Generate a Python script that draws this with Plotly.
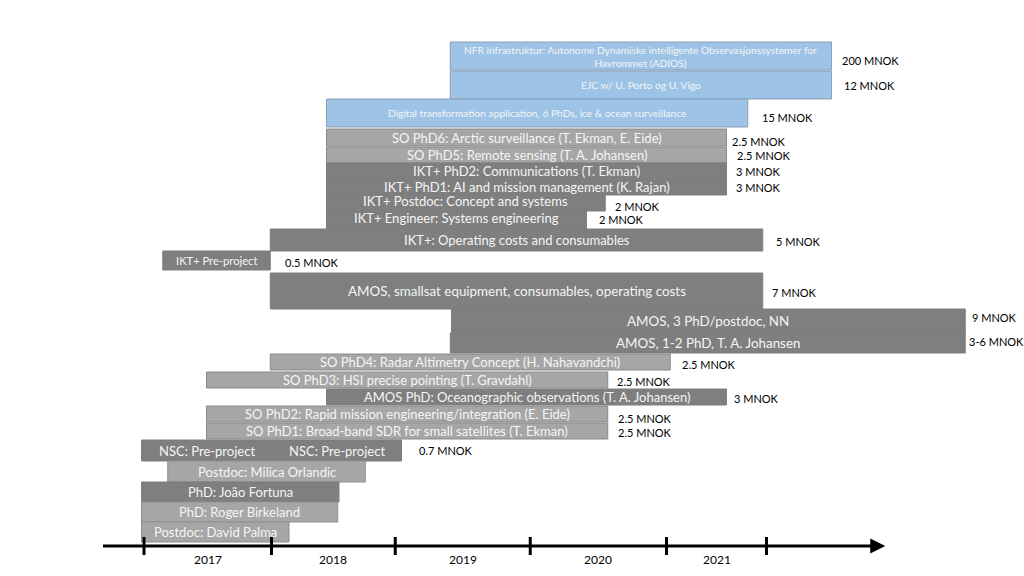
import plotly.graph_objects as go

# ---------------- data ----------------
tasks = [
    "NFR infrastruktur: Autonome Dynamiske intelligente Observasjonssystemer for<br>Havrommet (ADIOS)",
    "EJC w/ U. Porto og U. Vigo",
    "Digital transformation application, 6 PhDs, ice & ocean surveillance",
    "SO PhD6: Arctic surveillance (T. Ekman, E. Eide)",
    "SO PhD5: Remote sensing (T. A. Johansen)",
    "IKT+ PhD2: Communications (T. Ekman)",
    "IKT+ PhD1: AI and mission management (K. Rajan)",
    "IKT+ Postdoc: Concept and systems",
    "IKT+ Engineer: Systems engineering",
    "IKT+: Operating costs and consumables",
    "IKT+ Pre-project",
    "AMOS, smallsat equipment, consumables, operating costs",
    "AMOS, 3 PhD/postdoc, NN",
    "AMOS, 1-2 PhD, T. A. Johansen",
    "SO PhD4: Radar Altimetry Concept (H. Nahavandchi)",
    "SO PhD3: HSI precise pointing (T. Gravdahl)",
    "AMOS PhD: Oceanographic observations (T. A. Johansen)",
    "SO PhD2: Rapid mission engineering/integration (E. Eide)",
    "SO PhD1: Broad-band SDR for small satellites (T. Ekman)",
    "NSC: Pre-project",
    "NSC: Pre-project",
    "Postdoc: Milica Orlandic",
    "PhD: João Fortuna",
    "PhD: Roger Birkeland",
    "Postdoc: David Palma",
]
starts = [2019.45, 2019.45, 2018.46, 2018.46, 2018.46, 2018.46, 2018.46, 2018.46, 2018.46,
          2018.01, 2017.15, 2018.01, 2019.46, 2019.45, 2018.01, 2017.50, 2018.46, 2017.50,
          2017.50, 2016.98, 2018.02, 2017.19, 2016.98, 2016.98, 2016.98]
ends = [2022.50, 2022.50, 2021.83, 2021.66, 2021.66, 2021.66, 2021.66, 2020.69, 2020.54,
        2021.95, 2018.01, 2021.95, 2023.57, 2023.57, 2021.21, 2020.71, 2021.66, 2020.71,
        2020.71, 2018.02, 2019.06, 2018.77, 2018.56, 2018.55, 2018.16]
costs = ["200 MNOK", "12 MNOK", "15 MNOK", "2.5 MNOK", "2.5 MNOK", "3 MNOK", "3 MNOK",
         "2 MNOK", "2 MNOK", "5 MNOK", "0.5 MNOK", "7 MNOK", "9 MNOK", "3-6 MNOK",
         "2.5 MNOK", "2.5 MNOK", "3 MNOK", "2.5 MNOK", "2.5 MNOK", "", "0.7 MNOK",
         "", "", "", ""]
groups = ["application", "application", "application", "SO", "SO", "IKT+", "IKT+", "IKT+",
          "IKT+", "IKT+", "IKT+", "AMOS", "AMOS", "AMOS", "SO", "SO", "AMOS", "SO", "SO",
          "NSC", "NSC", "NSC-light", "NSC", "NSC-light", "NSC-light"]
year_labels = ["2017", "2018", "2019", "2020", "2021"]
year_dividers = [2017.00, 2018.02, 2019.01, 2020.09, 2021.18, 2021.98]
timeline_span = [2016.66, 2022.93]

# ---------------- layout constants ----------------
W, H = 1024, 576
PX_PER_YEAR = 125.0
X0_YEAR, X0_PX = 2017.0, 144         # page pixel of the 2017 divider
x_range = [X0_YEAR - X0_PX / PX_PER_YEAR, X0_YEAR + (W - X0_PX) / PX_PER_YEAR]
y_range = [H, 0]

row_y = [56, 85, 113, 137.5, 155, 171, 187, 202.5, 220, 240, 260.5, 291, 321, 343,
         362, 380, 397, 414, 431, 450.5, 450.5, 471.5, 492, 512, 532]
row_h = [28, 28, 28, 17, 16, 16, 16, 17, 18, 22, 19, 36, 24, 20,
         16, 16, 16, 16, 16, 21, 21, 21, 20, 20, 20]
cost_gap = [8, 10, 12, 3, 8, 7, 7, 8, 10, 11, 13, 7, 5, 2, 10, 7, 5, 8, 8, 0, 15, 0, 0, 0, 0]
cost_dy = [4, 0, 4, 3.5, 0, 0, 0, 3.5, -1, 1, 1.5, 1, -4, -2, 2, 1, 1, 4, 1, 0, -0.5, 0, 0, 0, 0]
text_dy = [0, 0, 0, 0, 0, 0, 0, -1.5, -2, 0, 0, 0, 0, 0, 0, 0, 0, 0, 0, 0, 0, 0, 0, 0, 0]

fill = {"application": "#9DC3E6", "SO": "#A6A6A6", "IKT+": "#7F7F7F", "AMOS": "#7F7F7F",
        "NSC": "#7F7F7F", "NSC-light": "#A6A6A6"}
edge = {"application": "#8C9FB4", "SO": "#8A8A8A", "IKT+": "#7F7F7F", "AMOS": "#7F7F7F",
        "NSC": "#7F7F7F", "NSC-light": "#8F8F8F"}
text_size = {"application": 10.2, "SO": 13, "IKT+": 13, "AMOS": 13, "NSC": 13,
             "NSC-light": 13}
FONT = "Lato"

fig = go.Figure()
fig.add_trace(go.Bar(
    orientation="h",
    y=row_y,
    base=starts,
    x=[e - s for s, e in zip(starts, ends)],
    width=row_h,
    marker=dict(color=[fill[g] for g in groups],
                line=dict(color=[edge[g] for g in groups], width=1)),
    hoverinfo="skip",
    showlegend=False,
))

annotations = []
for i, t in enumerate(tasks):
    size = text_size[groups[i]]
    if t == "IKT+ Pre-project":
        size = 11.2
    if t.startswith("AMOS,"):
        size = 13.4
    annotations.append(dict(
        x=(starts[i] + ends[i]) / 2, y=row_y[i], xref="x", yref="y",
        text=t, showarrow=False, xanchor="center", yanchor="middle",
        yshift=-text_dy[i],
        font=dict(family=FONT, size=size, color="#F5F5F5"),
    ))
    if costs[i]:
        annotations.append(dict(
            x=ends[i], y=row_y[i], xref="x", yref="y", text=costs[i],
            showarrow=False, xanchor="left", yanchor="middle",
            xshift=cost_gap[i], yshift=-cost_dy[i],
            font=dict(family=FONT, size=11, color="#000000"),
        ))

# timeline arrow
AXIS_Y = 546
annotations.append(dict(
    x=timeline_span[1], y=AXIS_Y, ax=timeline_span[0], ay=AXIS_Y,
    xref="x", yref="y", axref="x", ayref="y", text="",
    showarrow=True, arrowhead=2, arrowsize=1.0, arrowwidth=3, arrowcolor="#000000",
))
for i, lab in enumerate(year_labels):
    annotations.append(dict(
        x=(year_dividers[i] + year_dividers[i + 1]) / 2, y=559, xref="x", yref="y",
        text=lab, showarrow=False, xanchor="center", yanchor="middle",
        font=dict(family=FONT, size=12, color="#000000"),
    ))

shapes = [dict(type="line", xref="x", yref="y", x0=d, x1=d, y0=537, y1=555,
               line=dict(color="#000000", width=3)) for d in year_dividers]

fig.update_layout(
    width=W, height=H,
    margin=dict(l=0, r=0, t=0, b=0),
    paper_bgcolor="white", plot_bgcolor="white",
    xaxis=dict(range=x_range, visible=False, fixedrange=True),
    yaxis=dict(range=y_range, visible=False, fixedrange=True),
    barmode="overlay",
    annotations=annotations,
    shapes=shapes,
    font=dict(family=FONT),
)

fig.write_html(
    "out.html",
    config={"displayModeBar": False},
    post_script="document.body.style.margin='0';document.body.style.overflow='hidden';",
)
